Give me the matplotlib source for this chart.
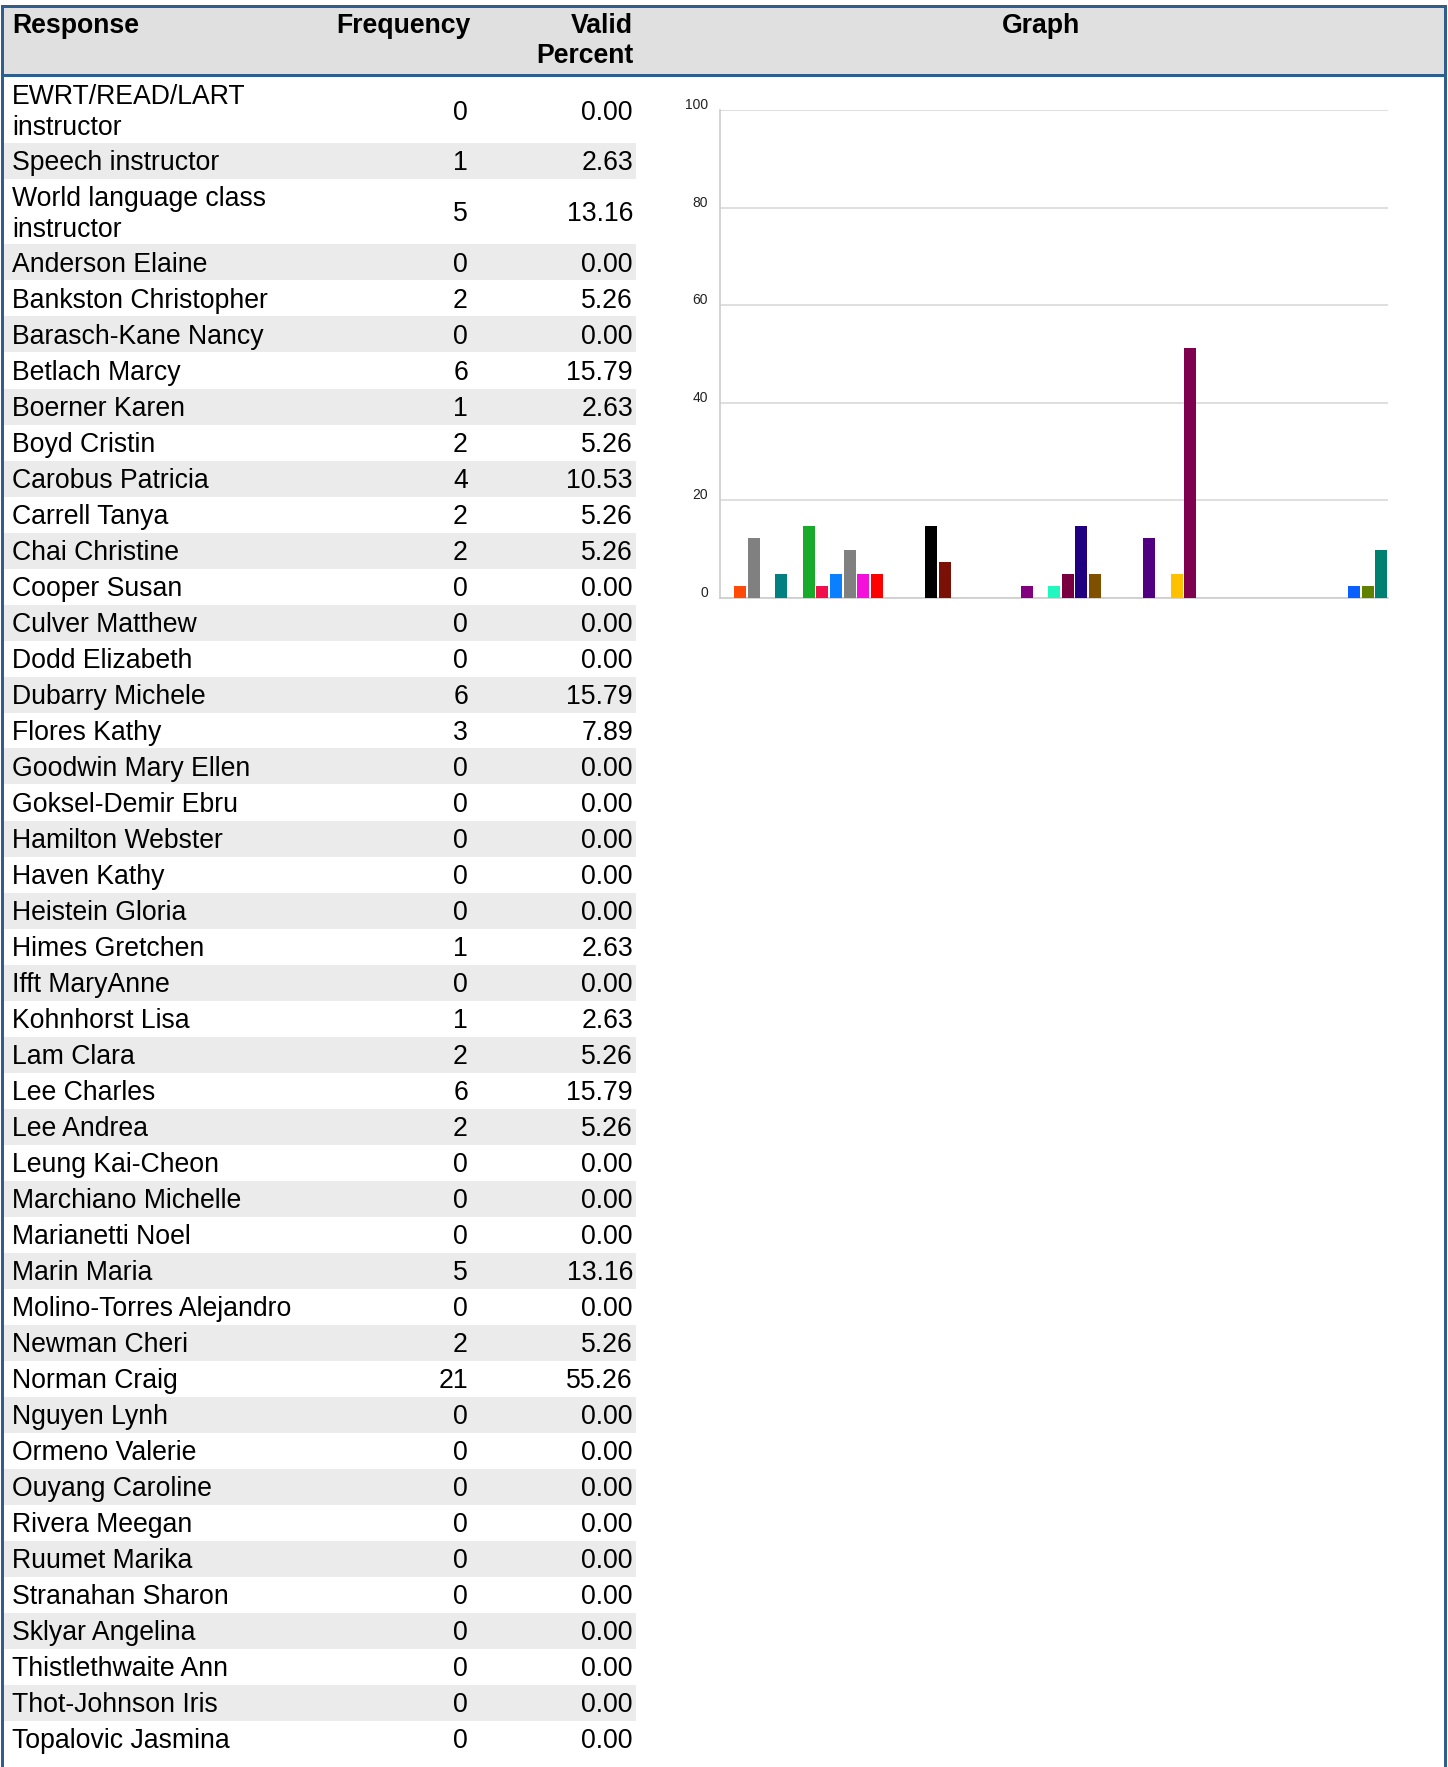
import matplotlib
matplotlib.use('Agg')
import matplotlib.pyplot as plt
from matplotlib.patches import Rectangle
from matplotlib.transforms import ScaledTranslation

# ---------------- data ----------------
responses = [
    "EWRT/READ/LART\ninstructor", "Speech instructor", "World language class\ninstructor",
    "Anderson Elaine", "Bankston Christopher", "Barasch-Kane Nancy", "Betlach Marcy",
    "Boerner Karen", "Boyd Cristin", "Carobus Patricia", "Carrell Tanya", "Chai Christine",
    "Cooper Susan", "Culver Matthew", "Dodd Elizabeth", "Dubarry Michele", "Flores Kathy",
    "Goodwin Mary Ellen", "Goksel-Demir Ebru", "Hamilton Webster", "Haven Kathy",
    "Heistein Gloria", "Himes Gretchen", "Ifft MaryAnne", "Kohnhorst Lisa", "Lam Clara",
    "Lee Charles", "Lee Andrea", "Leung Kai-Cheon", "Marchiano Michelle", "Marianetti Noel",
    "Marin Maria", "Molino-Torres Alejandro", "Newman Cheri", "Norman Craig", "Nguyen Lynh",
    "Ormeno Valerie", "Ouyang Caroline", "Rivera Meegan", "Ruumet Marika",
    "Stranahan Sharon", "Sklyar Angelina", "Thistlethwaite Ann", "Thot-Johnson Iris",
    "Topalovic Jasmina",
]
frequency = [0, 1, 5, 0, 2, 0, 6, 1, 2, 4, 2, 2, 0, 0, 0, 6, 3, 0, 0, 0, 0, 0, 1, 0, 1,
             2, 6, 2, 0, 0, 0, 5, 0, 2, 21, 0, 0, 0, 0, 0, 0, 0, 0, 0, 0]
valid_percent = ["0.00", "2.63", "13.16", "0.00", "5.26", "0.00", "15.79", "2.63", "5.26",
                 "10.53", "5.26", "5.26", "0.00", "0.00", "0.00", "15.79", "7.89", "0.00",
                 "0.00", "0.00", "0.00", "0.00", "2.63", "0.00", "2.63", "5.26", "15.79",
                 "5.26", "0.00", "0.00", "0.00", "13.16", "0.00", "5.26", "55.26", "0.00",
                 "0.00", "0.00", "0.00", "0.00", "0.00", "0.00", "0.00", "0.00", "0.00"]
header_labels = ["Response", "Frequency", "Valid", "Percent", "Graph"]

# bar heights (49 slots, last ones belong to rows below the crop)
graph_values = [0, 2.4, 12.2, 0, 4.9, 0, 14.6, 2.4, 4.9, 9.8, 4.9, 4.9, 0, 0, 0, 14.6, 7.3,
                0, 0, 0, 0, 0, 2.4, 0, 2.4, 4.9, 14.6, 4.9, 0, 0, 0, 12.2, 0, 4.9, 51.2,
                0, 0, 0, 0, 0, 0, 0, 0, 0, 0, 0, 2.4, 2.4, 9.8]
bar_colors = ['none', '#FF4A0A', '#808080', 'none', '#008080', 'none', '#18AA2A', '#F0104C',
              '#0A80FF', '#808080', '#F50FDA', '#FF0000', 'none', 'none', 'none', '#000000',
              '#7A1006', 'none', 'none', 'none', 'none', 'none', '#800080', 'none', '#20F8C0',
              '#780040', '#200080', '#805000', 'none', 'none', 'none', '#500080', 'none',
              '#FFC000', '#800050', 'none', 'none', 'none', 'none', 'none', 'none', 'none',
              'none', 'none', 'none', 'none', '#0A60FF', '#608000', '#008070']
y_ticks = [0, 20, 40, 60, 80, 100]

# ---------------- figure ----------------
W, H = 1448, 1767
fig = plt.figure(figsize=(W / 100, H / 100), dpi=100)
ax = fig.add_axes([0, 0, 1, 1])
ax.set_xlim(0, W)
ax.set_ylim(H, 0)
ax.axis('off')

FONT = 'Liberation Sans'
BORDER = '#2E5E8E'
FS = 19.2

# header
ax.add_patch(Rectangle((3, 7), 1442, 68, facecolor='#E0E0E0', edgecolor='none', zorder=0))
ax.text(12, 26, header_labels[0], ha='left', va='center', fontsize=FS, fontweight='bold', family=FONT)
ax.text(471, 26, header_labels[1], ha='right', va='center', fontsize=FS, fontweight='bold', family=FONT)
ax.text(633, 26, header_labels[2], ha='right', va='center', fontsize=FS, fontweight='bold', family=FONT)
ax.text(633, 56, header_labels[3], ha='right', va='center', fontsize=FS, fontweight='bold', family=FONT)
ax.text(1041, 26, header_labels[4], ha='center', va='center', fontsize=FS, fontweight='bold', family=FONT)

# borders
ax.add_patch(Rectangle((1, 5), 1446, 3, facecolor=BORDER, edgecolor='none', zorder=3))
ax.add_patch(Rectangle((1, 74), 1446, 3, facecolor=BORDER, edgecolor='none', zorder=3))
ax.add_patch(Rectangle((1, 5), 3, H, facecolor=BORDER, edgecolor='none', zorder=3))
ax.add_patch(Rectangle((1444, 5), 3, H, facecolor=BORDER, edgecolor='none', zorder=3))

# rows
top = 77.5
for i, name in enumerate(responses):
    nl = name.count('\n') + 1
    h = 36 + 29.5 * (nl - 1)
    yc = top + h / 2
    if i % 2 == 1:
        ax.add_patch(Rectangle((4, top), 632, h, facecolor='#EBEBEB', edgecolor='none', zorder=0))
    ax.text(12, yc + 2.5, name, ha='left', va='center', fontsize=FS, family=FONT, linespacing=1.24)
    ax.text(468, yc + 2.5, str(frequency[i]), ha='right', va='center', fontsize=FS, family=FONT)
    ax.text(633, yc + 2.5, valid_percent[i], ha='right', va='center', fontsize=FS, family=FONT)
    top += h

# ---------------- graph ----------------
gx0, gx1 = 720, 1388
gy100, gy0 = 110, 597.7
ax2 = fig.add_axes([gx0 / W, 1 - gy0 / H, (gx1 - gx0) / W, (gy0 - gy100) / H])
x = list(range(len(graph_values)))
ax2.bar(x, graph_values, width=0.88, color=bar_colors, zorder=3)
ax2.set_xlim(-0.5, len(graph_values) - 0.5)
ax2.set_ylim(0, 100)
ax2.set_yticks(y_ticks)
ax2.set_yticklabels([])
ax2.set_xticks([])
ax2.tick_params(axis='y', length=0)
ax2.grid(axis='y', color='#D9D9D9', linewidth=1.2, zorder=0)
for s in ['top', 'right']:
    ax2.spines[s].set_visible(False)
ax2.spines['left'].set_color('#CCCCCC')
ax2.spines['bottom'].set_color('#CCCCCC')
ax2.spines['left'].set_linewidth(1.2)
ax2.spines['bottom'].set_linewidth(1.2)
ax2.patch.set_alpha(0)

lab_tr = ax2.get_yaxis_transform() + ScaledTranslation(0, 0.05, fig.dpi_scale_trans)
for v in y_ticks:
    ax2.text(-12 / (gx1 - gx0), v, str(v), transform=lab_tr, ha='right', va='center',
             fontsize=10, family=FONT, color='#222222')

fig.savefig('out.png', dpi=100)
